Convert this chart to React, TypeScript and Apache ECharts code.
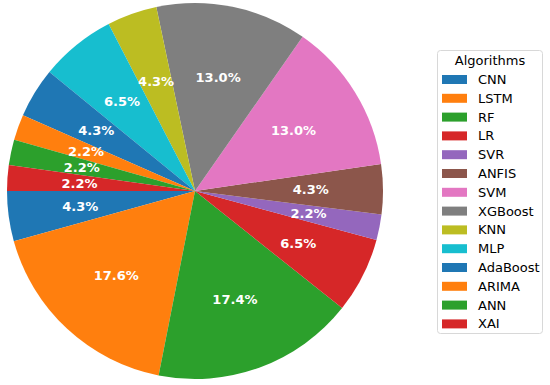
import React, { useEffect, useRef } from "react";
import * as echarts from "echarts";

const categories = ["CNN", "LSTM", "RF", "LR", "SVR", "ANFIS", "SVM", "XGBoost", "KNN", "MLP", "AdaBoost", "ARIMA", "ANN", "XAI"];
const values = [4.3, 17.6, 17.4, 6.5, 2.2, 4.3, 13.0, 13.0, 4.3, 6.5, 4.3, 2.2, 2.2, 2.2];
const colors = ["#1f77b4", "#ff7f0e", "#2ca02c", "#d62728", "#9467bd", "#8c564b", "#e377c2", "#7f7f7f", "#bcbd22", "#17becf", "#1f77b4", "#ff7f0e", "#2ca02c", "#d62728"];
const legendTitle = "Algorithms";

const FONT = "DejaVu Sans";

export default function App() {
  const ref = useRef<HTMLDivElement>(null);
  useEffect(() => {
    if (!ref.current) return;
    const chart = echarts.init(ref.current, undefined, { renderer: "svg" });
    const R = 188;
    const data = categories.map((name, i) => ({
      name,
      value: values[i],
      itemStyle: { color: colors[i] },
    }));
    chart.setOption({
      animation: false,
      backgroundColor: "#ffffff",
      legend: {
        orient: "vertical",
        left: 442,
        top: 73,
        data: categories,
        itemWidth: 25,
        itemHeight: 9,
        itemGap: 5.8,
        icon: "rect",
        padding: 0,
        selectedMode: false,
        textStyle: { fontFamily: FONT, fontSize: 13, color: "#000000", padding: [0, 0, 0, 6] },
      },
      graphic: [
        {
          type: "rect",
          shape: { x: 437.5, y: 50.5, width: 105, height: 283, r: 3 },
          style: { fill: "#ffffff", stroke: "#d8d8d8", lineWidth: 1 },
          z: -1,
        },
        {
          type: "text",
          x: 490,
          y: 60,
          style: {
            text: legendTitle,
            fontFamily: FONT,
            fontSize: 13,
            fill: "#000000",
            textAlign: "center",
            textVerticalAlign: "middle",
          },
        },
      ],
      series: [
        {
          type: "pie",
          center: [195, 191],
          radius: [0, R],
          startAngle: 180,
          clockwise: false,
          data,
          label: { show: false },
          labelLine: { show: false },
          emphasis: { disabled: true },
          itemStyle: { borderWidth: 0 },
        },
        {
          type: "pie",
          center: [195, 191],
          radius: [R * 0.2, R],
          startAngle: 180,
          clockwise: false,
          data: categories.map((name, i) => ({
            name,
            value: values[i],
            itemStyle: { color: "rgba(0,0,0,0)" },
          })),
          silent: true,
          label: {
            show: true,
            position: "inside",
            formatter: (p: any) => p.value.toFixed(1) + "%",
            color: "#ffffff",
            fontFamily: FONT,
            fontSize: 13,
            fontWeight: "bold",
          },
          labelLine: { show: false },
          emphasis: { disabled: true },
          itemStyle: { borderWidth: 0 },
        },
      ],
    });
    return () => chart.dispose();
  }, []);
  return (
    <div
      ref={ref}
      style={{ position: "fixed", left: 0, top: 0, width: 550, height: 385 }}
    />
  );
}
